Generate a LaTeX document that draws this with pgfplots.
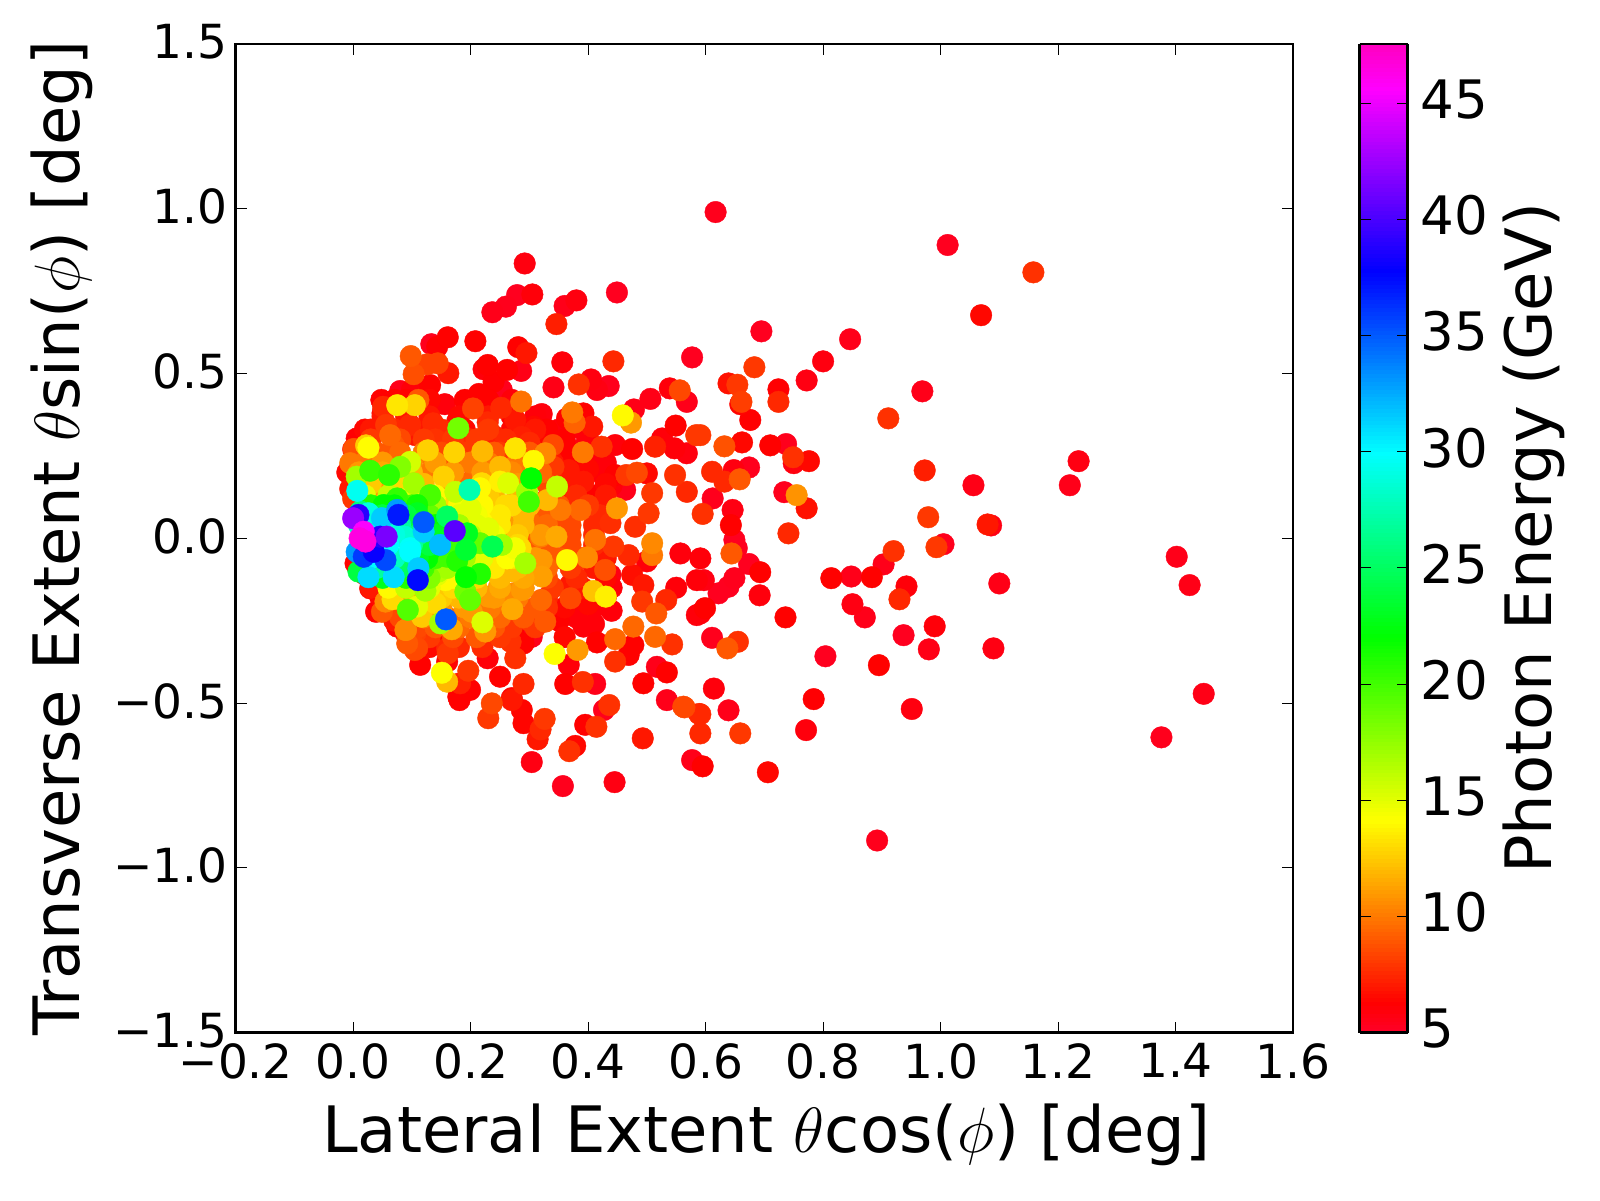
\RequirePackage{fix-cm}
\documentclass[border=0pt]{standalone}
\usepackage{fontspec}
\setmainfont{DejaVu Sans}
\usepackage{pgfplots}
\usepackage{pgfplotstable}
\pgfplotsset{compat=1.18}
\pgfplotsset{colormap={gistrainbow}{rgb(0cm)=(1,0,.16) rgb(0.3cm)=(1,0,0) rgb(2.15cm)=(1,1,0) rgb(4cm)=(0,1,0) rgb(5.86cm)=(0,1,1) rgb(7.7cm)=(0,0,1) rgb(9.54cm)=(1,0,1) rgb(10cm)=(1,0,.75)}}
\pgfplotstableread{
x y e
1.158 .807 7.8
1.069 .677 6.5
1.012 .890 5.3
.846 .604 5.5
.800 .537 5.8
.772 .479 5.7
.695 .628 5.3
.969 .446 5.5
.911 .364 7.8
.683 .519 8
.639 .470 6.8
.654 .466 8
.724 .452 6.2
.724 .414 7.5
.661 .414 8.2
.659 .407 6.4
.676 .359 6.3
.662 .291 6.5
.632 .279 8.8
.591 .313 8
.710 .282 6.3
.737 .286 5.4
.776 .234 6.5
.749 .246 7.8
.750 .228 5.8
.674 .215 5.4
.648 .207 5.8
.611 .202 7.5
.632 .172 7.5
.658 .179 9
1.235 .234 5.7
1.220 .161 5.5
1.056 .161 5.6
.973 .206 7.2
.734 .140 5.4
.755 .131 10.8
.612 .121 5.4
.772 .091 6.8
.741 .015 7.5
.979 .064 8
1.080 .042 7
1.086 .039 5.7
1.005 -.018 5.4
.993 -.027 8
.920 -.039 7.8
.903 -.079 5.5
.848 -.116 5.5
.814 -.121 6.3
.883 -.118 6.3
.942 -.146 6
.930 -.185 7.5
1.100 -.137 5.6
.850 -.200 5.7
.871 -.240 5.5
.736 -.240 6.3
.990 -.267 6
.937 -.294 5.3
.980 -.337 5.6
1.090 -.334 5.7
.804 -.358 5.3
.895 -.385 6.3
.784 -.488 6.2
.951 -.518 5.8
.771 -.582 5.9
.693 -.103 6.3
.692 -.173 5.9
.674 -.078 5.3
.649 -.121 5.4
.639 -.147 5.3
.622 -.167 5.3
.649 -.005 5.3
.653 -.030 5.3
.644 -.046 9
.597 -.127 5.7
.591 -.061 6
.599 -.212 6.3
.591 -.228 6
.611 -.302 5.4
.655 -.314 7.8
.637 -.334 9
.614 -.456 5.9
.639 -.522 5.5
.591 -.534 7.5
.659 -.592 8
.646 .086 5.7
.643 .040 6.3
.595 .074 7.8
1.402 -.056 5.5
1.424 -.142 5.6
1.448 -.472 5.6
1.376 -.604 5.4
.892 -.917 5.4
.617 .990 5.4
.230 -.546 8
.236 -.501 8.5
.290 -.561 6.4
.287 -.521 6.4
.326 -.548 8
.319 -.580 7.5
.314 -.610 7
.304 -.679 5.7
.378 -.630 6.5
.368 -.646 7.8
.357 -.752 5.4
.445 -.740 5.7
.395 -.566 6.3
.414 -.572 7.8
.427 -.521 5.4
.436 -.506 7.8
.493 -.607 7
.577 -.673 5.5
.595 -.692 6.3
.591 -.592 7.5
.589 -.533 7.5
.564 -.513 8.5
.534 -.491 5.5
.706 -.710 6.5
.181 -.491 6.3
.270 -.491 7
.292 .834 5.8
.449 .746 5.3
.279 .738 5.3
.305 .740 6
.237 .686 5.5
.260 .703 5.4
.360 .705 5.5
.380 .722 5.8
.346 .650 7.2
.577 .549 5.3
.133 .589 5.4
.161 .610 6.3
.143 .581 6.2
.208 .598 6.3
.281 .580 6.3
.295 .562 7
.356 .534 6
.443 .537 7.5
.098 .553 9
.144 .531 8.3
.126 .528 8.3
.103 .498 8.7
.162 .501 7
.229 .526 6.3
.222 .513 6
.262 .511 6.3
.286 .508 5.6
.131 .465 6.3
.080 .447 5.5
.341 .458 5.6
.384 .467 7.8
.405 .482 5.8
.415 .450 5.7
.435 .462 5.4
.239 .475 6.2
.253 .450 5.4
.214 .438 6.3
.506 .423 5.6
.539 .455 6
.556 .449 8.5
.568 .414 5.5
.478 .391 5.6
.459 .373 14
.473 .351 11
.373 .382 10
.377 .351 9.3
.392 .379 6.3
.407 .339 7
.364 .364 6.3
.549 .342 6.3
.526 .303 6
.584 .313 8
.075 .404 13.4
.105 .404 12.8
.048 .420 6.3
.051 .399 7.5
.111 .420 9
.156 .407 5.9
.286 .415 9.8
.204 .394 8.3
.252 .396 7.5
.321 .377 5.9
.179 .334 18.5
.136 .349 7.5
.177 .354 6.5
.056 .344 8
.097 .344 7.5
.063 .313 9.5
.069 .283 9
.106 .313 7
.229 .352 7.5
.276 .359 7
.307 .339 6.5
.287 .308 7.2
.006 .303 6.2
.001 .271 8.8
.026 .275 14.1
.022 .282 12.5
.127 .267 12.7
.172 .261 12.8
.220 .264 12
.276 .273 13.3
.307 .235 14
.327 .258 10.5
.340 .283 8.5
.391 .261 10
.423 .278 7.8
.390 .273 5.8
.358 .285 6.3
.446 .283 6
.475 .271 6.3
.514 .278 7.3
.547 .273 6
.568 .258 5.8
.548 .192 7.8
.500 .197 6.5
.483 .199 8.5
.465 .192 8
.446 .192 6.3
.463 .147 5.5
.509 .137 8
.568 .141 7.5
.367 .207 7
.392 .172 7
.341 .217 8
.250 .217 12
.154 .187 12.7
.199 .172 9.5
.219 .167 13
.250 .172 13.7
.264 .167 15.2
.303 .182 22
.347 .157 16
.296 .141 17
.299 .111 20
.029 .205 20.3
.061 .192 20.7
.080 .217 18
.097 .232 15.5
.103 .167 17
.131 .131 19.8
.007 .144 29.5
.006 .187 17
-.005 .228 10
.198 .147 27.5
.174 .141 16
.191 .116 14.5
.216 .152 14
.160 .066 25
.173 .022 40.5
.194 .015 23
.120 .049 35
.120 .020 31.5
.077 .071 37
.075 .086 33
.109 .076 23
.109 .101 21.5
.075 .121 20.5
.052 .101 22
.035 .056 22
.026 .076 29
.012 .081 26
.049 .061 31.5
0 .061 42.5
.009 .071 39
.057 .005 41.5
.018 .020 45.5
.011 0 46.5
.021 -.010 46.5
.046 .005 39
.087 .005 28.5
.097 -.030 29.8
.148 -.020 32
.097 -.041 30
.055 -.066 35.5
.026 -.118 31
.069 -.118 31
.110 -.127 37.5
.111 -.091 31.5
.089 0 28
.018 -.056 36
.006 -.041 33
.009 -.101 24
.035 -.041 38
.126 -.061 22
.131 -.036 22
.145 -.101 16.5
.160 -.056 20
.177 -.069 21
.192 -.035 23.5
.237 -.025 24.5
.216 -.015 19
.253 -.020 17
.275 -.030 14.5
.293 -.076 16.9
.262 -.061 14.2
.192 -.118 22
.216 -.108 21
.191 -.162 18.5
.199 -.187 19
.140 -.197 13
.157 -.127 14
.123 -.159 17
.143 -.111 15
.093 -.217 19.5
.109 -.207 15
.067 -.185 13
.055 -.192 10.5
.117 -.238 12.5
.158 -.246 35
.148 -.258 17
.168 -.276 11.5
.220 -.255 15.2
.225 -.283 11
.271 -.215 11.5
.248 -.149 11
.287 -.157 11
.233 -.212 10
.089 -.278 10.5
.106 -.288 8.3
.092 -.319 9
.109 -.334 8.5
.049 -.223 9
.029 -.152 6.5
.046 -.177 6.4
.004 -.076 6.4
.039 -.223 6.2
.075 -.268 6.3
.126 -.288 7.8
.143 -.309 6.4
.160 -.334 7.5
.151 -.408 14.2
.160 -.435 12
.196 -.402 8
.179 -.481 6.3
.199 -.460 6.3
.182 -.440 7.3
.114 -.384 6.3
.105 -.339 8.5
.090 -.278 10.5
.161 -.349 8
.160 -.374 6.4
.250 -.420 6.3
.270 -.485 6.4
.290 -.442 7.5
.276 -.364 7.8
.229 -.364 6
.268 -.314 7.8
.290 -.319 6.3
.304 -.299 5.5
.273 -.273 6.3
.327 -.253 9
.343 -.351 14.2
.382 -.339 11
.367 -.384 6
.361 -.442 6.3
.391 -.436 7.8
.412 -.442 5.5
.446 -.374 7.8
.446 -.306 9.5
.477 -.268 9.5
.477 -.324 6.3
.469 -.354 6.3
.494 -.440 6.3
.517 -.390 5.5
.534 -.407 6.3
.514 -.299 9.5
.543 -.322 7.8
.562 -.511 8.5
.392 -.268 6
.415 -.316 6.3
.409 -.160 12.3
.430 -.177 13.7
.438 -.111 5.7
.429 -.096 8.7
.398 -.058 10.5
.364 -.066 14
.346 .005 11.5
.346 .031 8.5
.321 -.116 11.2
.321 -.066 11
.320 -.187 9.5
.370 -.182 8.5
.516 -.228 9
.494 -.142 7
.533 -.187 7.5
.492 -.192 8
.557 -.046 5.9
.585 -.127 6
.585 -.233 5.9
.475 -.111 6.7
.509 -.015 10.5
.509 -.051 10
.449 .091 11
.469 -.051 7.5
.443 -.025 8
.412 -.005 9.8
.387 .086 9.5
.353 .086 10
.503 .076 8
.480 .035 7.7
.438 .046 7.7
.290 -.152 11
.273 -.167 10.5
.230 -.177 11
.202 -.223 11
.222 -.086 13
.250 -.046 12.5
.285 -.030 13
.267 .035 11
.219 .050 14
.233 .076 12.5
.330 .116 12
.319 .005 10
.302 .046 9.5
.307 -.015 9
.20 .30 7.5
.24 .31 7.3
.17 .30 8
.14 .30 7.8
.33 .33 6.3
.30 .29 7.5
.25 .26 8
.33 .22 8
.30 .20 8.5
.36 .18 7
.40 .21 6.5
.44 .16 6
.41 .13 6.3
.37 .13 7
.33 .12 8
.35 -.25 6.3
.40 -.20 6.5
.44 -.22 6
.36 -.30 6.5
.41 -.26 6
.30 -.25 8
.33 -.21 7.8
.37 -.14 7
.42 -.08 7
.50 -.07 6
.55 -.15 6
0 .27 7
-.01 .20 6.5
-.005 .15 7
0 .12 8
.01 -.08 6.5
.02 -.11 6.3
.03 -.15 7
.05 -.19 6.5
.07 -.25 7
.09 -.29 7
.11 -.33 6.5
.02 .33 6.5
.05 .38 6.3
.07 .42 6.3
.10 .45 6
.12 .15 11
.15 .08 12
.18 .05 13
.07 .16 12
.04 .15 11
.16 .22 9
.20 .23 10
.24 .13 12
.27 .10 13
.20 .09 15
.23 .03 15
.17 -.02 15
.18 -.18 12
.15 -.16 12
.24 -.10 12
.27 -.10 12
.09 .42 6.3
.13 .42 6.5
.19 .42 6.3
.23 .42 6.3
.27 .42 6
.05 .37 7
.09 .37 7
.13 .37 7
.18 .37 6.5
.23 .37 7
.27 .37 6.3
.31 .37 6
.03 .33 7
.07 .33 7.5
.11 .33 7
.15 .33 7.5
.19 .33 6.5
.23 .33 8
.27 .33 6.5
.31 .33 7
.35 .33 6
.39 .33 6
.03 .30 8
.08 .30 8.5
.12 .30 8
.16 .30 7
.21 .30 8
.26 .30 7.5
.31 .30 6.5
.36 .30 6.3
.40 .30 6
.04 .26 9
.08 .26 9.5
.12 .26 10
.15 .26 8.5
.19 .26 8
.24 .26 9
.30 .26 9
.36 .26 6.3
.41 .26 6
.02 .23 10
.05 .23 11
.10 .23 10.5
.14 .23 11
.18 .23 9.5
.23 .23 10
.28 .23 10
.34 .23 7
.38 .23 6.3
.43 .23 6
.01 .20 11
.05 .20 11.5
.10 .20 12
.13 .20 10
.17 .20 11
.22 .20 11
.27 .20 10.5
.32 .20 9.5
.37 .20 6.5
.42 .20 6
.03 .165 12.5
.08 .165 13
.12 .165 12
.16 .165 11
.22 .165 12
.28 .165 11
.33 .165 8.5
.38 .165 7
.43 .165 6.5
.02 .13 15
.06 .13 16
.10 .13 15
.14 .13 14
.17 .13 13
.23 .13 12.5
.28 .13 12
.34 .13 9
.38 .13 7.5
.43 .13 7
.03 .10 21
.07 .10 22
.10 .10 20
.14 .10 17
.18 .10 14
.22 .10 14
.26 .10 13
.30 .10 12
.35 .10 9
.40 .10 8
.02 .07 25
.05 .07 24
.09 .07 24
.13 .07 19
.18 .07 15
.21 .07 14.5
.25 .07 13.5
.29 .07 12
.33 .07 9
.37 .07 8.5
.42 .07 7.5
.01 .04 28
.04 .04 27
.08 .04 27
.11 .04 24
.14 .04 22
.18 .04 17
.21 .04 15
.25 .04 13.5
.29 .04 12
.33 .04 9.5
.37 .04 8.5
.41 .04 7.5
.03 .01 30
.07 .01 29
.11 .01 26
.14 .01 23
.16 .01 20
.20 .01 16
.24 .01 14.5
.28 .01 12.5
.32 .01 11
.37 .01 8.5
.41 .01 7.5
.02 -.02 32
.06 -.02 30
.10 -.02 27
.13 -.02 24
.17 -.02 20
.20 -.02 17
.24 -.02 15
.28 -.02 13
.33 -.02 9
.37 -.02 8.5
.41 -.02 7.5
.03 -.06 30
.07 -.06 28
.11 -.06 23
.14 -.06 20
.19 -.06 17
.22 -.06 15
.27 -.06 13.5
.31 -.06 11
.35 -.06 9
.39 -.06 8
.43 -.06 7
.04 -.09 27
.08 -.09 25
.12 -.09 20
.16 -.09 17
.20 -.09 15
.24 -.09 13.5
.28 -.09 12
.33 -.09 9.5
.37 -.09 8
.41 -.09 7
.05 -.12 23
.09 -.12 21
.13 -.12 18
.17 -.12 14
.21 -.12 13
.25 -.12 12
.29 -.12 11.5
.33 -.12 8.5
.38 -.12 7.5
.43 -.12 6.5
.06 -.15 14
.09 -.15 16
.13 -.15 15
.17 -.15 13
.21 -.15 12
.25 -.15 11.5
.29 -.15 10.5
.34 -.15 8
.39 -.15 7
.44 -.15 6
.08 -.18 11
.11 -.18 12
.15 -.18 12.5
.19 -.18 12
.24 -.18 11
.28 -.18 10
.33 -.18 7.5
.38 -.18 6.5
.43 -.18 6
.07 -.21 8
.11 -.21 11
.15 -.21 11
.19 -.21 11
.23 -.21 10
.27 -.21 10
.31 -.21 9
.36 -.21 6.5
.41 -.21 6
.08 -.24 8.5
.12 -.24 10
.16 -.24 9.5
.20 -.24 10
.25 -.24 9.5
.29 -.24 9
.33 -.24 6.3
.38 -.24 6
.11 -.27 8.5
.14 -.27 9
.18 -.27 9.5
.24 -.27 9
.27 -.27 8
.31 -.27 8
.13 -.30 8
.17 -.30 8.5
.21 -.30 9
.25 -.30 8
.13 -.33 6.5
.18 -.33 7.5
.22 -.33 7.5
}\rawdata
\pgfplotstablesort[sort key=e]\sorteddata{\rawdata}
\begin{document}
\begin{tikzpicture}
\useasboundingbox (-117.85pt,-83.7pt) rectangle (682.15pt,516.3pt);
\begin{axis}[
    scale only axis,
    width=528.65pt,
    height=494.3pt,
    xmin=-0.2,xmax=1.6,
    ymin=-1.5,ymax=1.5,
    xtick={-0.2,0,0.2,0.4,0.6,0.8,1.0,1.2,1.4,1.6},
    xticklabels={−0.2,0.0,0.2,0.4,0.6,0.8,1.0,1.2,1.4,1.6},
    ytick={-1.5,-1,-0.5,0,0.5,1,1.5},
    yticklabels={−1.5,−1.0,−0.5,0.0,0.5,1.0,1.5},
    tick align=inside,
    major tick length=5.5pt,
    tick style={black,line width=0.5pt},
    axis line style={line width=1.3pt},
    ticklabel style={font=\fontsize{23.5}{28}\selectfont},
    xticklabel style={yshift=-2pt},
    yticklabel style={xshift=-0.5pt,yshift=1pt},
    xlabel={Lateral Extent $\theta$cos($\phi$) [deg]},
    ylabel={Transverse Extent $\theta$sin($\phi$) [deg]},
    label style={font=\fontsize{32}{38}\selectfont},
    xlabel style={at={(axis description cs:0.5,0)},anchor=base,yshift=-60pt,xshift=1pt},
    ylabel style={at={(axis description cs:0,0.5)},anchor=base,yshift=78pt},
    colormap name=gistrainbow,
    point meta min=5,
    point meta max=47.55,
    colorbar sampled,
    colorbar style={
        at={(parent axis.north east)},
        anchor=north west,
        xshift=24.8pt,
        scale only axis,
        width=24pt,
        height=494.3pt,
        samples=256,
        ytick={5,10,15,20,25,30,35,40,45},
        yticklabels={5,10,15,20,25,30,35,40,45},
        major tick length=5.5pt,
        tick align=inside,
        axis line style={line width=1.3pt},
        ticklabel style={font=\fontsize{26.5}{31}\selectfont},
        yticklabel style={xshift=3pt,yshift=2pt},
        ylabel={Photon Energy (GeV)},
        ylabel style={at={(axis description cs:1,0.5)},anchor=base,yshift=-72pt,font=\fontsize{32}{38}\selectfont},
    },
]
\addplot[
    scatter,
    only marks,
    mark=*,
    mark size=5.4pt,
    scatter src=explicit,
    scatter/use mapped color={draw=mapped color,fill=mapped color,line width=0.2pt},
] table[x=x,y=y,meta=e] {\sorteddata};
\end{axis}
\end{tikzpicture}
\end{document}
